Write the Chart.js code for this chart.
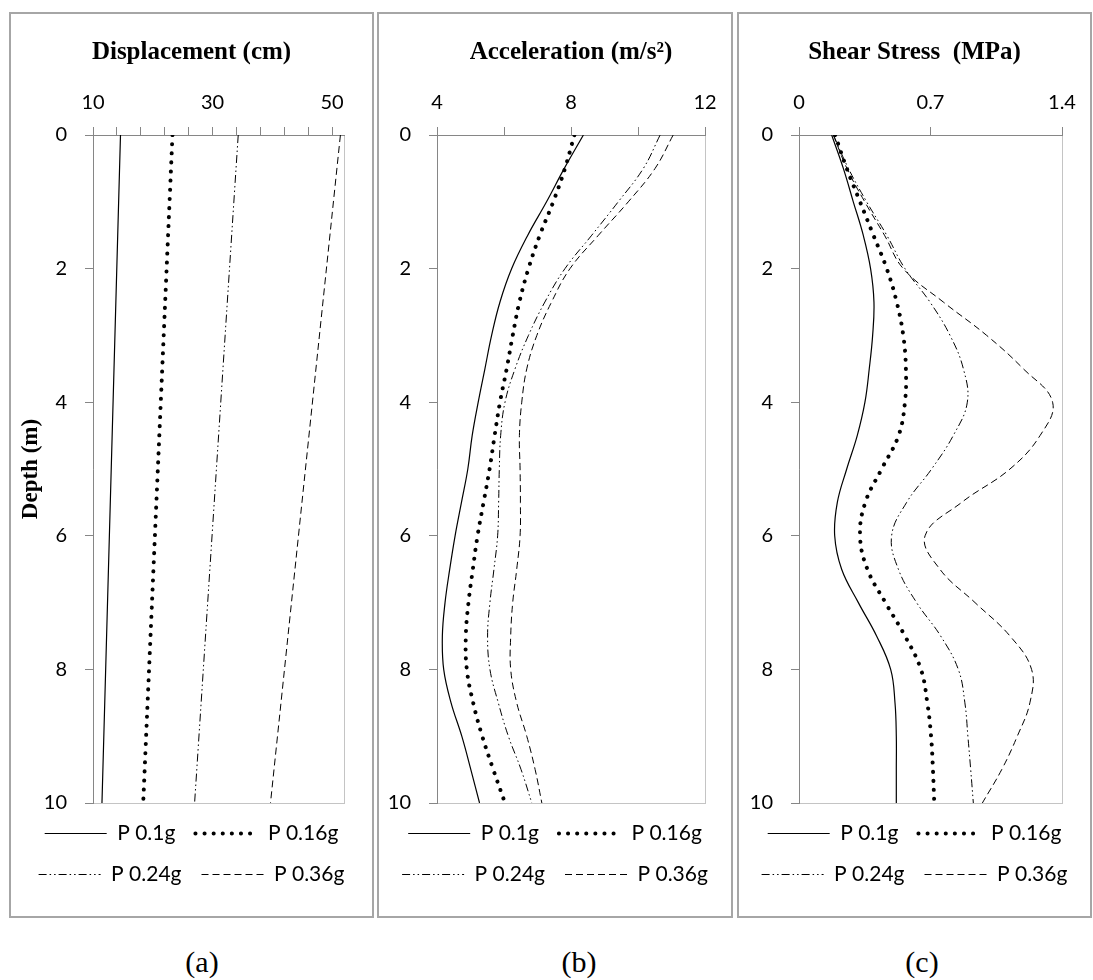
<!DOCTYPE html>
<html>
<head>
<meta charset="utf-8">
<script src="https://cdn.jsdelivr.net/npm/chart.js@4.4.1/dist/chart.umd.min.js"></script>
<style>
    body { margin: 0; background: #fff; width: 1093px; height: 980px; position: relative; overflow: hidden; }
    .panel { position: absolute; top: 12px; height: 906px; border: 2px solid #a6a6a6; box-sizing: border-box; }
    .panel canvas { display: block; }
    .cap { position: absolute; top: 945px; width: 80px; text-align: center;
           font: 30px "Liberation Serif", "Times New Roman", serif; color: #000; }
</style>
</head>
<body>
<div class="panel" style="left:9px;width:365px"><canvas id="dispChart" width="361" height="902"></canvas></div>
<div class="panel" style="left:377px;width:356px"><canvas id="accelChart" width="352" height="902"></canvas></div>
<div class="panel" style="left:737px;width:355px"><canvas id="shearChart" width="351" height="902"></canvas></div>
<div class="cap" style="left:162px">(a)</div>
<div class="cap" style="left:539px">(b)</div>
<div class="cap" style="left:882px">(c)</div>
<script>
// depth (m)
const depthLinear = [0, 10];
const depthProfile = [0, 0.5, 1, 1.5, 2, 2.5, 3, 3.5, 4, 4.5, 5, 5.5, 6, 6.5, 7, 7.5, 8, 8.5, 9, 9.5, 10];
const seriesNames = ["P 0.1g", "P 0.16g", "P 0.24g", "P 0.36g"];

// displacement (cm), top and bottom of the profile
const disp010 = [14.6, 11.5];
const disp016 = [23.3, 18.4];
const disp024 = [34.3, 27.0];
const disp036 = [51.4, 39.7];

// acceleration (m/s2)
const accel010 = [8.37, 7.80, 7.27, 6.71, 6.23, 5.88, 5.63, 5.43, 5.23, 5.05, 4.92, 4.73, 4.54, 4.38, 4.24, 4.16, 4.20, 4.42, 4.74, 5.01, 5.27];
const accel016 = [8.10, 7.82, 7.47, 7.07, 6.73, 6.46, 6.26, 6.08, 5.88, 5.72, 5.57, 5.39, 5.21, 5.07, 4.94, 4.86, 4.89, 5.08, 5.35, 5.68, 6.03];
const accel024 = [10.66, 10.16, 9.41, 8.62, 7.82, 7.22, 6.73, 6.33, 6.03, 5.90, 5.86, 5.84, 5.81, 5.70, 5.58, 5.51, 5.58, 5.83, 6.13, 6.51, 6.83];
const accel036 = [11.05, 10.51, 9.71, 8.82, 7.97, 7.42, 6.98, 6.68, 6.53, 6.46, 6.48, 6.49, 6.48, 6.38, 6.26, 6.20, 6.20, 6.38, 6.68, 6.93, 7.13];

// shear stress (MPa)
const shear010 = [0.174, 0.236, 0.289, 0.342, 0.381, 0.399, 0.392, 0.374, 0.351, 0.310, 0.254, 0.204, 0.190, 0.227, 0.316, 0.413, 0.488, 0.511, 0.518, 0.518, 0.518];
const shear016 = [0.192, 0.254, 0.325, 0.396, 0.467, 0.520, 0.555, 0.569, 0.564, 0.530, 0.440, 0.353, 0.325, 0.364, 0.460, 0.564, 0.649, 0.683, 0.703, 0.713, 0.720];
const shear024 = [0.183, 0.263, 0.360, 0.467, 0.564, 0.697, 0.804, 0.875, 0.896, 0.821, 0.706, 0.573, 0.493, 0.529, 0.626, 0.754, 0.848, 0.883, 0.899, 0.914, 0.928];
const shear036 = [0.183, 0.255, 0.350, 0.455, 0.555, 0.768, 0.999, 1.194, 1.350, 1.283, 1.123, 0.866, 0.671, 0.750, 0.937, 1.123, 1.238, 1.229, 1.162, 1.079, 0.976];

// axis ticks
const dispTicks = [10, 14, 18, 22, 26, 30, 34, 38, 42, 46, 50];
const dispTickLabels = [10, 30, 50];
const accelTickLabels = [4, 8, 12];
const shearTickLabels = [0, 0.7, 1.4];

const lineStyles = [
    { borderWidth: 1.2, borderDash: [] },
    { borderWidth: 4, borderDash: [0.1, 9], borderCapStyle: "round" },
    { borderWidth: 1, borderDash: [8, 3, 1.5, 3, 1.5, 3] },
    { borderWidth: 1, borderDash: [7, 4] }
];

const axisGray = "#868686";

const plotFrame = {
    id: "plotFrame",
    beforeDraw(chart) {
        const { ctx, chartArea: a } = chart;
        ctx.save();
        ctx.strokeStyle = "#c4c4c4";
        ctx.lineWidth = 1;
        ctx.strokeRect(Math.round(a.left) + 0.5, Math.round(a.top) + 0.5, Math.round(a.right - a.left), Math.round(a.bottom - a.top));
        ctx.restore();
    }
};

function makeDatasets(depths, seriesList) {
    return seriesList.map((values, i) => ({
        label: seriesNames[i],
        data: values.map((v, k) => ({ x: v, y: depths[k] })),
        showLine: true,
        fill: false,
        borderColor: "#000",
        backgroundColor: "#000",
        pointRadius: 0,
        tension: 0.4,
        ...lineStyles[i]
    }));
}

function legendItems(chart) {
    return chart.data.datasets.map((ds, i) => ({
        text: ds.label,
        datasetIndex: i,
        fillStyle: "#000",
        strokeStyle: "#000",
        fontColor: "#000",
        lineWidth: ds.borderWidth,
        lineDash: ds.borderDash,
        lineCap: ds.borderCapStyle || "butt",
        pointStyle: "line",
        hidden: false
    }));
}

function buildPanel(id, p) {
    const xScale = {
        type: "linear",
        position: "top",
        min: p.xMin,
        max: p.xMax,
        afterFit: s => { s.height = 57; },
        grid: { drawOnChartArea: false, color: axisGray, tickLength: 8 },
        border: { color: axisGray },
        ticks: {
            stepSize: p.xStep,
            autoSkip: false,
            maxRotation: 0,
            padding: 12,
            color: "#000",
            font: { family: "Lato", size: 20 },
            callback: v => p.xLabels.some(l => Math.abs(l - v) < 1e-6) ? String(Number(v.toFixed(2))) : ""
        }
    };
    if (p.xTicks) {
        xScale.afterBuildTicks = s => { s.ticks = p.xTicks.map(v => ({ value: v })); };
    }
    new Chart(document.getElementById(id), {
        type: "scatter",
        data: { datasets: makeDatasets(p.depths, p.series) },
        options: {
            responsive: false,
            animation: false,
            layout: { padding: { left: 0, right: 0, top: 0, bottom: 21 } },
            plugins: {
                title: {
                    display: true,
                    text: p.title,
                    fullSize: p.titleFull,
                    color: "#000",
                    font: { family: "Liberation Serif", size: 25, weight: "bold" },
                    padding: { top: 24, bottom: 10 }
                },
                legend: {
                    position: "bottom",
                    labels: {
                        usePointStyle: true,
                        pointStyleWidth: 62,
                        padding: 20,
                        color: "#000",
                        font: { family: "Lato", size: 21 },
                        generateLabels: legendItems
                    }
                },
                tooltip: { enabled: false }
            },
            scales: {
                x: xScale,
                y: {
                    type: "linear",
                    reverse: true,
                    min: 0,
                    max: 10,
                    afterFit: s => { s.width = p.yWidth; },
                    grid: { drawOnChartArea: false, color: axisGray, tickLength: 8 },
                    border: { color: axisGray },
                    title: {
                        display: !!p.yTitle,
                        text: p.yTitle || "",
                        color: "#000",
                        font: { family: "Liberation Serif", size: 23, weight: "bold" },
                        padding: { top: 6, bottom: 0 }
                    },
                    ticks: {
                        stepSize: 2,
                        padding: 18,
                        color: "#000",
                        font: { family: "Lato", size: 20 }
                    }
                },
                // empty strip that keeps the right margin of the plot
                yRight: {
                    type: "linear",
                    axis: "y",
                    position: "right",
                    afterFit: s => { s.width = p.padRight; },
                    grid: { display: false },
                    border: { display: false },
                    ticks: { display: false }
                }
            }
        },
        plugins: [plotFrame]
    });
}

document.addEventListener("DOMContentLoaded", () => {
    buildPanel("dispChart", {
        title: "Displacement (cm)", titleFull: true, yTitle: "Depth (m)",
        depths: depthLinear, series: [disp010, disp016, disp024, disp036],
        xMin: 10, xMax: 52, xTicks: dispTicks, xLabels: dispTickLabels,
        yWidth: 82, padRight: 28
    });
    buildPanel("accelChart", {
        title: "Acceleration (m/s\u00b2)", titleFull: false,
        depths: depthProfile, series: [accel010, accel016, accel024, accel036],
        xMin: 4, xMax: 12, xStep: 2, xLabels: accelTickLabels,
        yWidth: 58, padRight: 26
    });
    buildPanel("shearChart", {
        title: "Shear Stress  (MPa)", titleFull: true,
        depths: depthProfile, series: [shear010, shear016, shear024, shear036],
        xMin: 0, xMax: 1.4, xStep: 0.7, xLabels: shearTickLabels,
        yWidth: 60, padRight: 28
    });
});
</script>
</body>
</html>
